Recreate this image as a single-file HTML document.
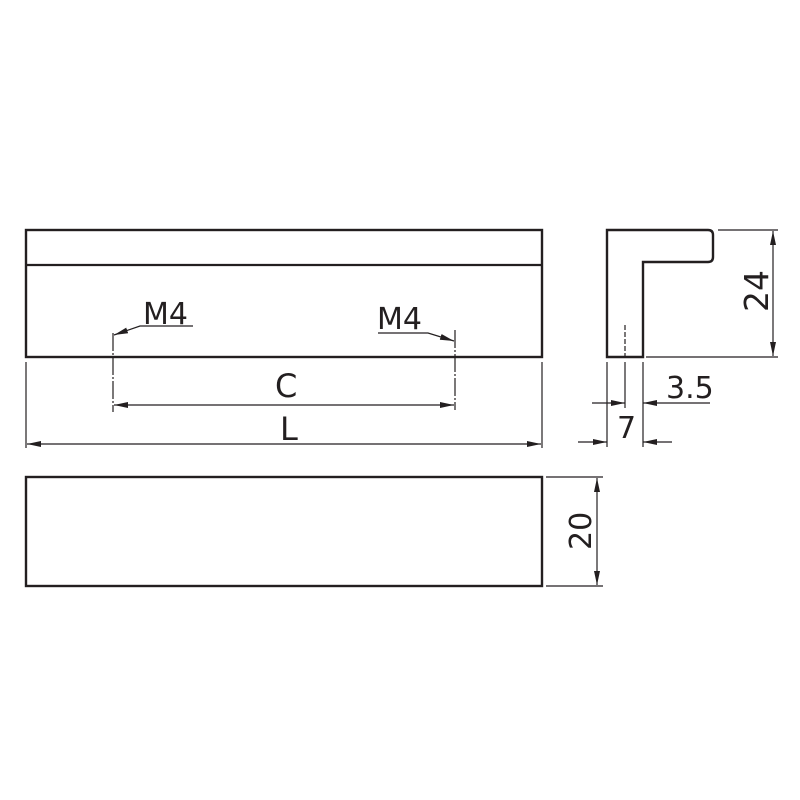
<!DOCTYPE html>
<html><head><meta charset="utf-8"><style>
html,body{margin:0;padding:0;background:#fff;}
svg{display:block;}
text{font-family:"DejaVu Sans","Liberation Sans",sans-serif;fill:#231f20;}
</style></head><body>
<svg width="800" height="800" viewBox="0 0 800 800" xmlns="http://www.w3.org/2000/svg">
<defs>
<marker id="a" viewBox="0 0 14 6" refX="14" refY="3" markerWidth="14" markerHeight="6" markerUnits="userSpaceOnUse" orient="auto-start-reverse">
<path d="M0,0 L14,3 L0,6 Z" fill="#231f20"/></marker>
</defs>
<g stroke="#231f20" fill="none">
<rect x="26" y="230" width="516" height="127" stroke-width="2.4"/>
<line x1="26" y1="265" x2="542" y2="265" stroke-width="2.2"/>
<rect x="26" y="477" width="516" height="109" stroke-width="2.4"/>
<path d="M607,230 L708,230 Q713,230 713,235 L713,257 Q713,262 708,262 L643,262 L643,357 L607,357 Z" stroke-width="2.4"/>
<g stroke-width="1.2">
<line x1="625" y1="325" x2="625" y2="357" stroke-dasharray="5,2"/>
<line x1="718" y1="230" x2="778" y2="230"/>
<line x1="646" y1="357" x2="778" y2="357"/>
<line x1="773" y1="231" x2="773" y2="356" marker-start="url(#a)" marker-end="url(#a)"/>
<line x1="607" y1="362" x2="607" y2="447"/>
<line x1="625" y1="362" x2="625" y2="408"/>
<line x1="643" y1="362" x2="643" y2="447"/>
<line x1="592" y1="403" x2="625" y2="403" marker-end="url(#a)"/>
<line x1="710" y1="403" x2="643" y2="403" marker-end="url(#a)"/>
<line x1="578" y1="442" x2="607" y2="442" marker-end="url(#a)"/>
<line x1="672" y1="442" x2="643" y2="442" marker-end="url(#a)"/>
<line x1="546" y1="477" x2="603" y2="477"/>
<line x1="546" y1="586" x2="603" y2="586"/>
<line x1="597" y1="478" x2="597" y2="585" marker-start="url(#a)" marker-end="url(#a)"/>
<line x1="113" y1="333" x2="113" y2="412" stroke-dasharray="18,2,2,2"/>
<line x1="455" y1="330" x2="455" y2="410" stroke-dasharray="18,2,2,2"/>
<line x1="114" y1="405" x2="454" y2="405" marker-start="url(#a)" marker-end="url(#a)"/>
<line x1="26" y1="362" x2="26" y2="448"/>
<line x1="542" y1="362" x2="542" y2="448"/>
<line x1="27" y1="444" x2="541" y2="444" marker-start="url(#a)" marker-end="url(#a)"/>
<polyline points="193,326 140,326 114,335" marker-end="url(#a)"/>
<polyline points="378,333 428,333 454,341" marker-end="url(#a)"/>
</g>
</g>
<text x="143" y="324" font-size="30">M4</text>
<text x="377" y="329" font-size="30">M4</text>
<text x="275" y="397" font-size="32">C</text>
<text x="280" y="440" font-size="32">L</text>
<text x="666" y="398" font-size="30">3.5</text>
<text x="617" y="438" font-size="30">7</text>
<text font-size="33" transform="translate(768,312) rotate(-90)">24</text>
<text font-size="30" transform="translate(591,550) rotate(-90)">20</text>
</svg>
</body></html>
